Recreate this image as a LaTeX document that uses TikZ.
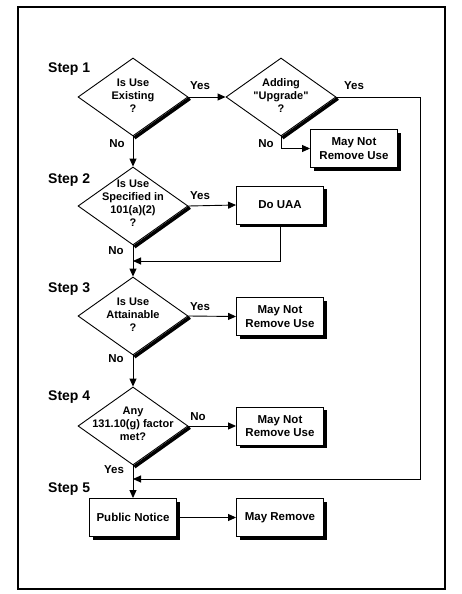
\documentclass[tikz,border=0pt]{standalone}
\usepackage{fontspec}
\setmainfont{Liberation Sans}
\newfontfamily\qfont{Liberation Sans}
\usetikzlibrary{shapes.geometric,arrows.meta,shadows}
\begin{document}
\begin{tikzpicture}[x=1pt,y=-1pt,
  dia/.style={diamond, draw, line width=0.9pt, minimum width=110pt, minimum height=78pt, inner sep=0pt},
  dtxt/.style={align=center, font=\fontsize{11}{13}\selectfont\bfseries, inner sep=0pt},
  bx/.style={rectangle, draw, line width=0.9pt, fill=white, minimum width=87pt, minimum height=38pt, align=center, inner sep=1pt,
    font=\fontsize{11.5}{13.5}\selectfont\bfseries,
    drop shadow={shadow xshift=3pt, shadow yshift=-3pt, fill=black, opacity=1}},
  lbl/.style={font=\fontsize{11.5}{13}\selectfont\bfseries, inner sep=0pt},
  steplbl/.style={font=\fontsize{14}{16}\selectfont\bfseries, anchor=west, inner sep=0pt},
  conn/.style={line width=0.9pt, -{Triangle[length=8pt,width=7pt]}},
  heavy/.style={line width=3.5pt, line cap=butt},
]
\useasboundingbox (0,0) rectangle (461,594);
\draw[line width=1.3pt] (18,7) rectangle (445,589);

% step labels
\node[steplbl] (s1) at (48,69) {Step 1};
\node[steplbl] (s2) at (48,180) {Step 2};
\node[steplbl] (s3) at (48,289) {Step 3};
\node[steplbl] (s4) at (48,397) {Step 4};
\node[steplbl] (s5) at (48,489) {Step 5};

% diamonds
\node[dia] (d1) at (133,97) {};
\node[dia] (d2) at (281,97) {};
\node[dia] (d3) at (133,206) {};
\node[dia] (d4) at (133,316) {};
\node[dia] (d5) at (133,426) {};
\foreach \d in {d1,d2,d3,d4,d5}{
  \draw[heavy] ([shift={(1.4,1.4)}]\d.east) -- ([shift={(1.4,1.4)}]\d.south);
}
\node[dtxt] (d1t) at (133,96) {Is Use\\Existing\\?};
\node[dtxt, font=\fontsize{11}{13}\qfont\bfseries] (d2t) at (281,96) {Adding\\"Upgrade"\\?};
\node[dtxt] (d3t) at (133,203) {Is Use\\Specified in\\101(a)(2)\\?};
\node[dtxt] (d4t) at (133,315) {Is Use\\Attainable\\?};
\node[dtxt] (d5t) at (133,424) {Any\\131.10(g) factor\\met?};

% boxes
\node[bx] (b1) at (354,148.5) {May Not\\Remove Use};
\node[bx] (uaa) at (280,205) {Do UAA};
\node[bx] (b3) at (280,316.5) {May Not\\Remove Use};
\node[bx] (b4) at (280,426) {May Not\\Remove Use};
\node[bx] (pn) at (133,517.5) {Public Notice};
\node[bx] (mr) at (280,517.5) {May Remove};

% helper coordinates
\coordinate (r1) at (420,97);
\coordinate (m3) at (133,261);
\coordinate (m5) at (133,479);

% connectors
\draw[conn] (d1.east) -- (d2.west);
\draw[conn] (d2.south) |- (b1.west);
\draw[conn] (d2.east) -- (r1) |- (m5);
\draw[conn] (d1.south) -- (d3.north);
\draw[conn] (d3.east) -- (uaa.west);
\draw[conn] (uaa.south) |- (m3);
\draw[conn] (d3.south) -- (d4.north);
\draw[conn] (d4.east) -- (b3.west);
\draw[conn] (d4.south) -- (d5.north);
\draw[conn] (d5.east) -- (b4.west);
\draw[conn] (d5.south) -- (pn.north);
\draw[conn] (pn.east) -- (mr.west);

% labels
\node[lbl] (y1) at (200,86) {Yes};
\node[lbl] (y2) at (354,86) {Yes};
\node[lbl] (n1) at (117,144) {No};
\node[lbl] (n2) at (266,144) {No};
\node[lbl] (y3) at (200,196) {Yes};
\node[lbl] (n3) at (116,251) {No};
\node[lbl] (y4) at (200,307) {Yes};
\node[lbl] (n4) at (116,359) {No};
\node[lbl] (n5) at (198,417) {No};
\node[lbl] (y5) at (114,470) {Yes};
\end{tikzpicture}
\end{document}
